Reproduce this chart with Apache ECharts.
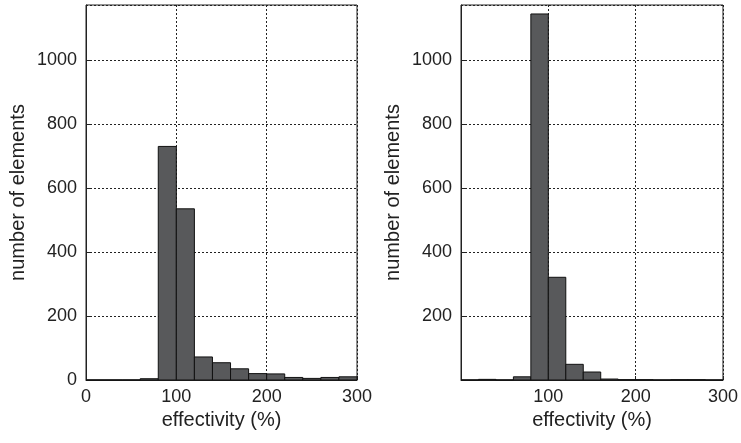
<!DOCTYPE html>
<html>
<head>
<meta charset="utf-8">
<script src="https://cdn.jsdelivr.net/npm/echarts@6/dist/echarts.min.js"></script>
<style>html,body{margin:0;padding:0;background:#fff}#c{width:741px;height:443px}</style>
</head>
<body>
<div id="c"></div>
<script>
// bin starts (effectivity %), bin width 20
const binStarts = [0,20,40,60,80,100,120,140,160,180,200,220,240,260,280];
const binWidth = 20;
const countsLeft  = [0,0,0,4,730,535,72,54,35,20,19,8,5,8,10];
const countsRight = [0,2,0,10,1144,321,49,25,3,1,1,0,1,1,0];
const xTicks = [0,100,200,300];
const yTicks = [0,200,400,600,800,1000];

const FONT = 'Liberation Sans';
const chart = echarts.init(document.getElementById('c'), null, {renderer:'canvas'});

function mkData(counts){ return binStarts.map((s,i)=>[s, s+binWidth, counts[i]]); }

function renderItem(params, api){
  const x0 = api.value(0), x1 = api.value(1), v = api.value(2);
  const p0 = api.coord([x0, v]);
  const p1 = api.coord([x1, 0]);
  return {
    type:'rect',
    shape:{x:p0[0], y:p0[1], width:p1[0]-p0[0], height:p1[1]-p0[1]},
    style:{fill:'#58595b', stroke:'#111', lineWidth:1}
  };
}

const grids = [
  {left:86, top:5, width:271, height:375},
  {left:461, top:5, width:270, height:375}
];

function xAxisFor(i, hideMin){
  return {
    type:'value', gridIndex:i, min:xTicks[0], max:xTicks[xTicks.length-1], interval:100,
    name:'effectivity (%)', nameLocation:'middle', nameGap:30,
    nameTextStyle:{fontFamily:FONT, fontSize:20, color:'#222'},
    axisLine:{show:true, lineStyle:{color:'#222', width:1}},
    axisTick:{inside:true, length:4, lineStyle:{color:'#222'}},
    axisLabel:{fontFamily:FONT, fontSize:18, color:'#222', margin:8, showMinLabel:!hideMin,
      formatter:v=>String(v)},
    splitLine:{show:true, lineStyle:{color:'#222', type:[2,2], width:1}}
  };
}
function yAxisFor(i, hideMin){
  return {
    type:'value', gridIndex:i, min:yTicks[0], max:1172, interval:200,
    name:'number of elements', nameLocation:'middle', nameGap:58,
    nameTextStyle:{fontFamily:FONT, fontSize:20, color:'#222'},
    axisLine:{show:true, lineStyle:{color:'#222', width:1}},
    axisTick:{inside:true, length:4, lineStyle:{color:'#222'}},
    axisLabel:{fontFamily:FONT, fontSize:18, color:'#222', margin:9, showMinLabel:!hideMin, showMaxLabel:false,
      formatter:v=>String(v)},
    splitLine:{show:true, lineStyle:{color:'#222', type:[2,2], width:1}}
  };
}

chart.setOption({
  animation:false,
  backgroundColor:'#fff',
  grid: grids.map(g=>Object.assign({show:true, borderColor:'#222', borderWidth:1, backgroundColor:'transparent'}, g)),
  xAxis:[xAxisFor(0,false), xAxisFor(1,true)],
  yAxis:[yAxisFor(0,false), yAxisFor(1,true)],
  series:[
    {type:'custom', xAxisIndex:0, yAxisIndex:0, renderItem, data:mkData(countsLeft), encode:{x:[0,1], y:2}, z:3},
    {type:'custom', xAxisIndex:1, yAxisIndex:1, renderItem, data:mkData(countsRight), encode:{x:[0,1], y:2}, z:3}
  ]
});
</script>
</body>
</html>
